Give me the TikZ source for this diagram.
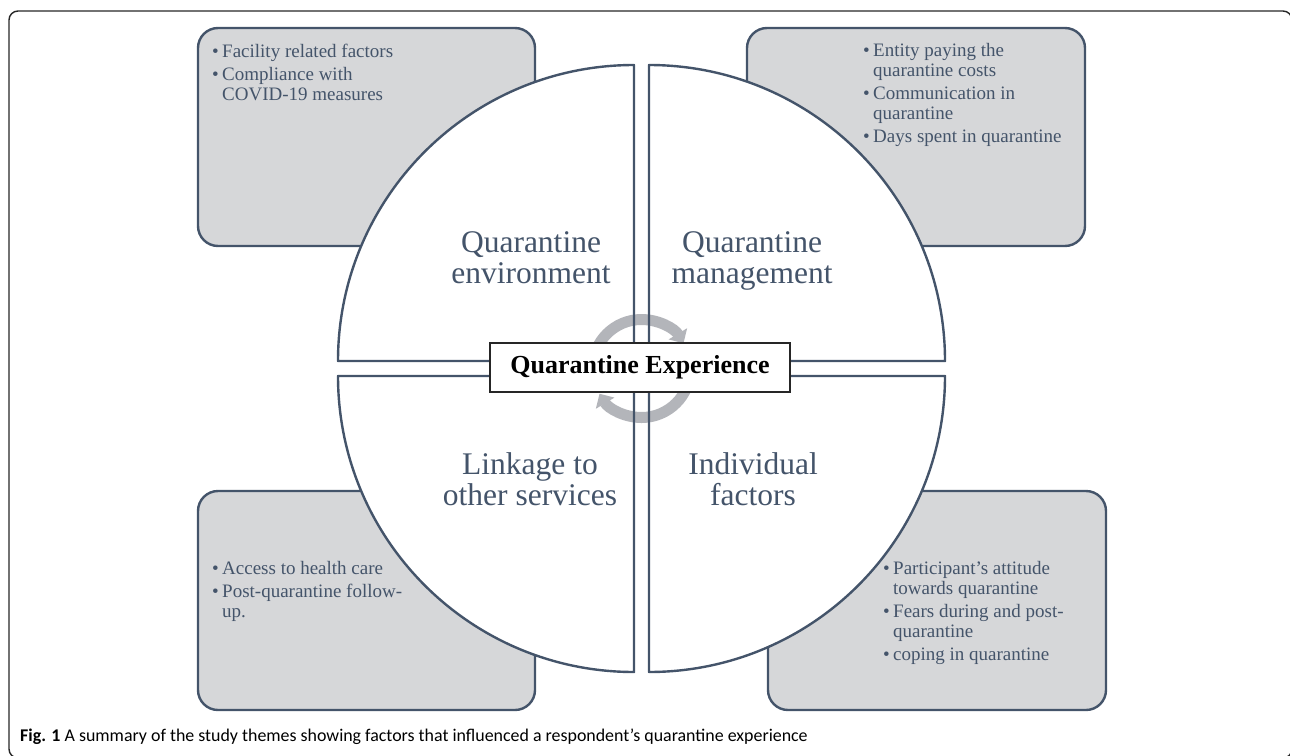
\documentclass[tikz,border=0pt]{standalone}
\usepackage{fontspec}
\setmainfont{Liberation Serif}
\newfontfamily\capfont{Carlito}
\usetikzlibrary{arrows.meta}

\definecolor{slate}{HTML}{44546A}
\definecolor{boxgray}{HTML}{D6D7D9}
\definecolor{ringgray}{HTML}{B3B5BA}

\tikzstyle{frame}=[draw=black!85, line width=1.4pt, rounded corners=9pt]
\tikzstyle{theme box}=[draw=slate, line width=2.4pt, fill=boxgray, rounded corners=20pt]
\tikzstyle{quarter}=[fill=white]
\tikzstyle{rim}=[draw=slate, line width=2.4pt, line join=round]
\tikzstyle{theme}=[text=slate, font=\fontsize{31.5}{31}\selectfont, align=center, inner sep=0pt, anchor=base]
\tikzstyle{item}=[text=slate, font=\fontsize{19}{20}\selectfont, align=left, inner sep=0pt, anchor=base west]
\tikzstyle{cycle arrow}=[draw=ringgray, line width=11pt, -{Triangle[width=21pt,length=11pt]}]
\tikzstyle{centre}=[draw=black!85, line width=1.3pt, fill=white, minimum width=300pt, minimum height=49pt, font=\bfseries\fontsize{26}{28}\selectfont]
\newcommand{\qrad}{296}
\newcommand{\bpt}{\makebox[10pt][l]{\textbullet}}
\newcommand{\bcont}{\hspace*{10pt}}

\begin{document}
\begin{tikzpicture}[x=1pt, y=1pt]
    \useasboundingbox (0,0) rectangle (1290,-755);
    \path[frame] (9,-758) rectangle (1292,-11);

    % Grey boxes holding the sub-themes
    \foreach \corner/\opposite in {{(198,-28)/(535,-246)}, {(747,-28)/(1085,-246)}, {(198,-491)/(535,-710)}, {(768,-491)/(1106,-710)}}
        \path[theme box] \corner rectangle \opposite;

    % The circle, cut into four quarters
    \foreach \apex/\sa in {{(634,-361)/90}, {(649,-361)/0}, {(634,-376)/180}, {(649,-376)/270}}
        \path[quarter] \apex -- ++(\sa:\qrad) arc[start angle=\sa, delta angle=90, radius=\qrad] -- cycle;

    % Circular arrows round the centre
    \draw[cycle arrow] (641.5,-368.5) ++(180:49) arc[start angle=180, end angle=31, radius=49];
    \draw[cycle arrow] (641.5,-368.5) ++(0:49) arc[start angle=0, end angle=-149, radius=49];

    \foreach \apex/\sa in {{(634,-361)/90}, {(649,-361)/0}, {(634,-376)/180}, {(649,-376)/270}}
        \path[rim] \apex -- ++(\sa:\qrad) arc[start angle=\sa, delta angle=90, radius=\qrad] -- cycle;

    % Theme names (placed by the baseline of their last line)
    \node[theme] (env) at (531,-283) {Quarantine\\environment};
    \node[theme] (mgmt) at (752,-283) {Quarantine\\management};
    \node[theme] (link) at (530,-505) {Linkage to\\other services};
    \node[theme] (indiv) at (753,-505) {Individual\\factors};

    % Sub-themes
    \node[item] (envlist) at (212,-100) {\bpt Facility related factors\\[3pt]\bpt Compliance with\\\bcont COVID-19 measures};
    \node[item] (mgmtlist) at (863,-142) {\bpt Entity paying the\\\bcont quarantine costs\\[3pt]\bpt Communication in\\\bcont quarantine\\[3pt]\bpt Days spent in quarantine};
    \node[item] (linklist) at (212,-617) {\bpt Access to health care\\[3pt]\bpt Post-quarantine follow-\\\bcont up.};
    \node[item] (indivlist) at (883,-660) {\bpt Participant’s attitude\\\bcont towards quarantine\\[3pt]\bpt Fears during and post-\\\bcont quarantine\\[3pt]\bpt coping in quarantine};

    \node[centre] (qe) at (640,-367.5) {Quarantine Experience};

    \node[anchor=base west, inner sep=0pt, font=\capfont\fontsize{17.9}{20}\selectfont] (cap) at (20,-741)
        {\textbf{Fig. 1} A summary of the study themes showing factors that influenced a respondent’s quarantine experience};
\end{tikzpicture}
\end{document}
